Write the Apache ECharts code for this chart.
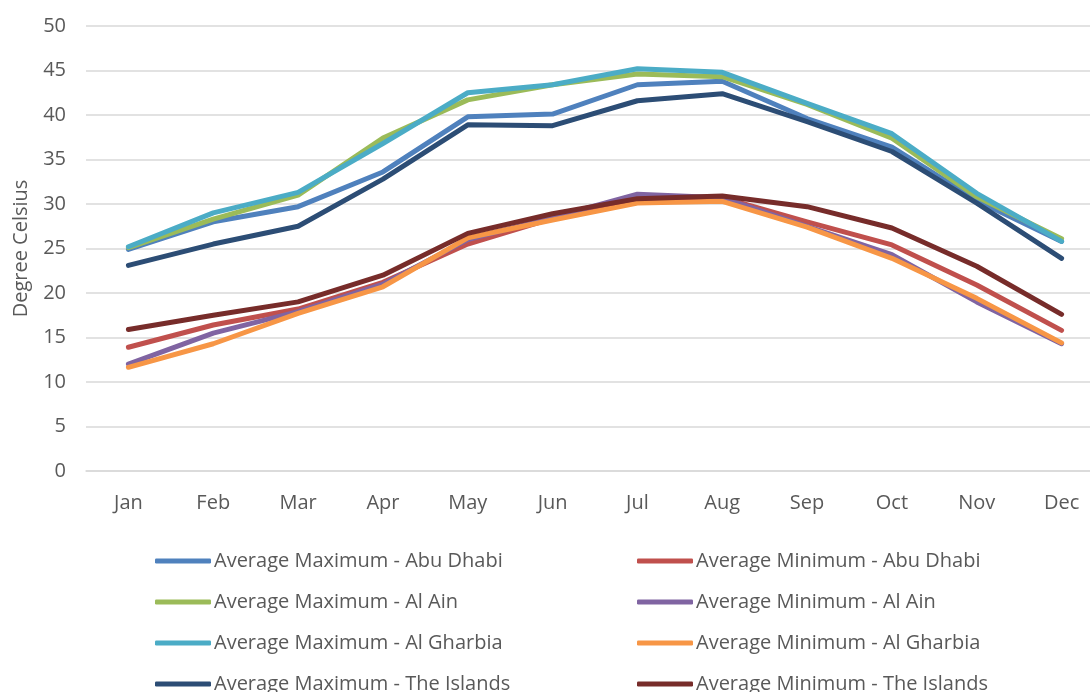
<!DOCTYPE html>
<html>
<head>
<meta charset="utf-8">
<script src="https://cdn.jsdelivr.net/npm/echarts@6/dist/echarts.min.js"></script>
<style>
  html, body { margin: 0; padding: 0; background: #fff; }
  #chart { width: 1090px; height: 692px; }
</style>
</head>
<body>
<div id="chart"></div>
<script>
// months on the x axis
var months = ['Jan', 'Feb', 'Mar', 'Apr', 'May', 'Jun', 'Jul', 'Aug', 'Sep', 'Oct', 'Nov', 'Dec'];

// average maximum temperatures (°C)
var maxAbuDhabi   = [24.9, 28.0, 29.7, 33.6, 39.8, 40.1, 43.4, 43.8, 39.6, 36.4, 30.4, 25.8];
var maxAlAin      = [25.1, 28.3, 31.0, 37.4, 41.7, 43.4, 44.6, 44.3, 41.2, 37.4, 30.8, 26.1];
var maxAlGharbia  = [25.2, 29.0, 31.3, 36.8, 42.5, 43.4, 45.2, 44.8, 41.3, 37.9, 31.2, 25.8];
var maxIslands    = [23.1, 25.5, 27.5, 32.8, 38.9, 38.8, 41.6, 42.4, 39.25, 35.9, 30.1, 23.9];

// average minimum temperatures (°C)
var minAbuDhabi   = [13.9, 16.4, 18.2, 21.2, 25.5, 28.4, 30.6, 30.7, 28.0, 25.4, 20.9, 15.8];
var minAlAin      = [12.0, 15.5, 17.9, 21.0, 26.0, 28.5, 31.1, 30.7, 27.5, 24.3, 19.0, 14.3];
var minAlGharbia  = [11.65, 14.3, 17.7, 20.7, 26.2, 28.2, 30.1, 30.3, 27.4, 23.9, 19.4, 14.4];
var minIslands    = [15.9, 17.5, 19.0, 22.0, 26.7, 28.9, 30.6, 30.9, 29.7, 27.3, 23.0, 17.6];

var yTicks = [0, 5, 10, 15, 20, 25, 30, 35, 40, 45, 50];

var maxNames = ['Average Maximum - Abu Dhabi', 'Average Maximum - Al Ain',
                'Average Maximum - Al Gharbia', 'Average Maximum - The Islands'];
var minNames = ['Average Minimum - Abu Dhabi', 'Average Minimum - Al Ain',
                'Average Minimum - Al Gharbia', 'Average Minimum - The Islands'];

var chart = echarts.init(document.getElementById('chart'));

var FONT = 'Open Sans';
var labelColor = '#595959';

function lineSeries(name, data, color) {
    return {
        name: name,
        type: 'line',
        data: data,
        symbol: 'none',
        lineStyle: { color: color, width: 5, cap: 'round', join: 'round' },
        itemStyle: { color: color }
    };
}

// one legend per entry so nothing wraps at the cropped bottom edge
var legends = [];
function addLegend(name, left, row) {
    legends.push({
        left: left,
        top: 551 + row * 41,
        padding: 0,
        icon: 'roundRect',
        itemWidth: 56,
        itemHeight: 5,
        selectedMode: false,
        data: [name],
        textStyle: { fontFamily: FONT, fontSize: 20, color: labelColor, padding: [0, 0, 0, -2] }
    });
}
for (var i = 0; i < 4; i++) {
    addLegend(maxNames[i], 155, i);
    addLegend(minNames[i], 637, i);
}

chart.setOption({
    animation: false,
    backgroundColor: '#fff',
    grid: { left: 86, top: 26, width: 1018, height: 445, containLabel: false, outerBoundsMode: 'none' },
    legend: legends,
    xAxis: {
        type: 'category',
        data: months,
        boundaryGap: true,
        axisLine: { show: true, lineStyle: { color: '#d9d9d9', width: 1.5 } },
        axisTick: { show: false },
        axisLabel: { color: labelColor, fontFamily: FONT, fontSize: 20, margin: 22 }
    },
    yAxis: {
        type: 'value',
        min: yTicks[0],
        max: yTicks[yTicks.length - 1],
        interval: 5,
        name: 'Degree Celsius',
        nameLocation: 'middle',
        nameGap: 55,
        nameRotate: 90,
        nameTextStyle: { color: labelColor, fontFamily: FONT, fontSize: 20 },
        axisLine: { show: false },
        axisTick: { show: false },
        axisLabel: { color: labelColor, fontFamily: FONT, fontSize: 20, margin: 20 },
        splitLine: { lineStyle: { color: '#d9d9d9', width: 1.5 } }
    },
    series: [
        lineSeries(maxNames[0], maxAbuDhabi, '#4F81BD'),
        lineSeries(minNames[0], minAbuDhabi, '#C0504D'),
        lineSeries(maxNames[1], maxAlAin, '#9BBB59'),
        lineSeries(minNames[1], minAlAin, '#8064A2'),
        lineSeries(maxNames[2], maxAlGharbia, '#4BACC6'),
        lineSeries(minNames[2], minAlGharbia, '#F79646'),
        lineSeries(maxNames[3], maxIslands, '#2C4D75'),
        lineSeries(minNames[3], minIslands, '#772C2A')
    ]
});
</script>
</body>
</html>
